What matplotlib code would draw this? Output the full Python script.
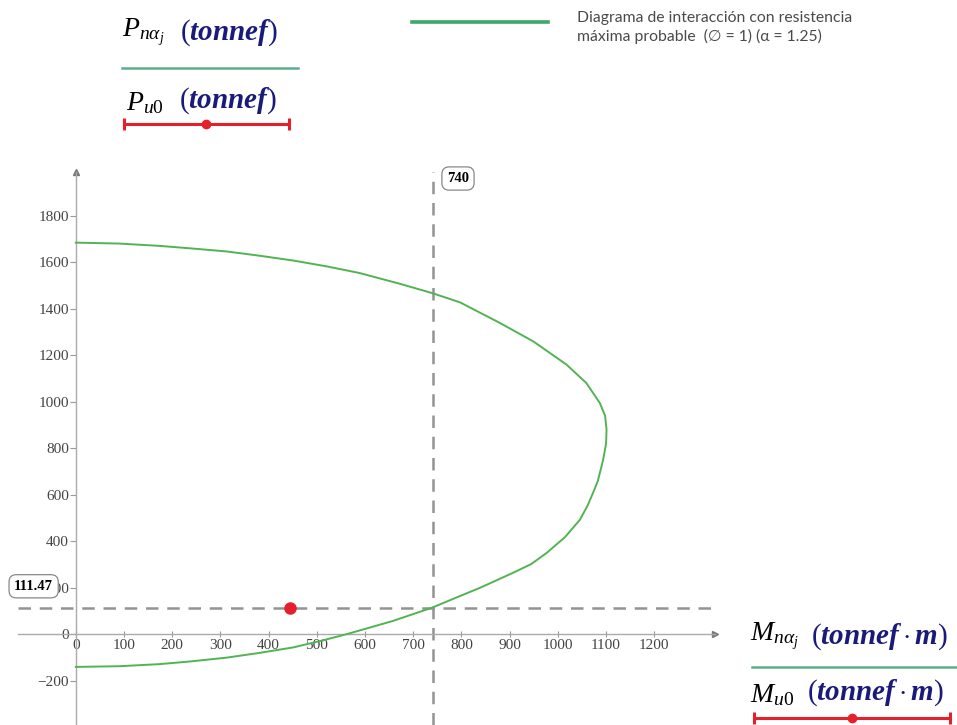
# -*- coding:utf-8 -*-
import matplotlib
matplotlib.use('Agg')
import matplotlib.pyplot as plt
from matplotlib.lines import Line2D

M_n = [0, 90, 174, 240, 313, 380, 451, 520, 589, 672, 739, 797, 880, 949, 1018, 1059, 1087,
       1098, 1101, 1100, 1094, 1083, 1073, 1062, 1046, 1015, 977, 945, 907, 838, 797, 739,
       658, 562, 510, 451, 380, 313, 240, 174, 90, 0]
P_n = [1685, 1681, 1671, 1660, 1647, 1629, 1608, 1583, 1554, 1508, 1468, 1428, 1339, 1260, 1160, 1081, 995,
       940, 880, 820, 751, 660, 608, 555, 493, 418, 350, 302, 264, 199, 164, 114,
       57, 0, -28, -57, -81, -101, -117, -129, -138, -141]
M_u0 = [445]
P_u0 = [111.47]
x_marker = 740
y_marker = 111.47
x_ticks = list(range(0, 1300, 100))
y_ticks = list(range(-200, 2000, 200))

plt.rcParams['mathtext.fontset'] = 'custom'
plt.rcParams['mathtext.rm'] = 'Liberation Serif'
plt.rcParams['mathtext.it'] = 'Liberation Serif:italic'
plt.rcParams['mathtext.bf'] = 'Liberation Serif:bold:italic'

W, H = 957, 725
verde = '#52b352'
rojo = '#e5202a'
gris = '#939393'
azul = '#1a1a7a'


def fx(x):
    return x / W


def fy(y):
    return 1 - y / H


fig = plt.figure(figsize=(W / 100, H / 100), dpi=100)
# ejes: pixeles 18..715 en x, 172..725 en y
ax = fig.add_axes([fx(18), 0, fx(715) - fx(18), fy(172)])
ax.set_xlim(-120, 1326)
ax.set_ylim(-391, 1989)

ax.plot(M_n, P_n, color=verde, lw=1.4, zorder=3)
ax.plot(M_u0, P_u0, 'o', color=rojo, ms=8, zorder=4)
ax.axvline(x_marker, color=gris, lw=1.8, ls=(0, (5, 3.5)), zorder=2)
ax.axhline(y_marker, color=gris, lw=1.8, ls=(0, (5, 3.5)), zorder=2)

for s in ['top', 'right']:
    ax.spines[s].set_visible(False)
for s in ['left', 'bottom']:
    ax.spines[s].set_position(('data', 0))
    ax.spines[s].set_color('#aaaaaa')
    ax.spines[s].set_linewidth(1)
ax.patch.set_alpha(0)

# flechas de los ejes
ax.plot([1], [0], marker='>', color='#777777', ms=5, transform=ax.get_yaxis_transform(), clip_on=False)
ax.plot([0], [1], marker='^', color='#777777', ms=5, transform=ax.get_xaxis_transform(), clip_on=False)

ax.set_xticks(x_ticks)
ax.set_yticks(y_ticks)
ax.set_xticklabels([str(v) for v in x_ticks])
ax.set_yticklabels([str(v).replace('-', '\u2212') for v in y_ticks])
ax.tick_params(axis='x', direction='inout', length=5, width=0.8, color='#999999',
               labelsize=11, labelcolor='#444444', pad=1)
ax.tick_params(axis='y', direction='out', length=4, width=0.8, color='#999999',
               labelsize=11, labelcolor='#444444', pad=1)
for lab in ax.get_xticklabels() + ax.get_yticklabels():
    lab.set_family('Liberation Serif')

# etiquetas de los marcadores
caja = dict(boxstyle='round,pad=0.35,rounding_size=0.5', fc='white', ec='#888888', lw=0.9)
ax.text(x_marker + 30, 1961, '740', family='Liberation Serif', weight='bold', fontsize=10.5,
        ha='left', va='center', bbox=caja, zorder=5)
ax.text(-128, 206, '111.47', family='Liberation Serif', weight='bold', fontsize=10.5,
        ha='left', va='center', bbox=caja, zorder=5)


# textos tipo leyenda
def etiqueta(x, y, simbolo, unidad, sep=11):
    t = fig.text(fx(x), fy(y), simbolo, fontsize=20, color='black', va='baseline', ha='left')
    plt.annotate(unidad, xy=(1, 0), xycoords=t, xytext=(sep, 0), textcoords='offset points',
                 fontsize=21, color=azul, va='bottom', ha='left')


def linea(x0, x1, y, color, puntos=None, lw=2.2):
    fig.add_artist(Line2D([fx(x0), fx(x1)], [fy(y), fy(y)], color=color, lw=lw))
    if puntos is not None:
        fig.add_artist(Line2D([fx(x0), fx(x1)], [fy(y), fy(y)], color=color, lw=0,
                              marker='|', ms=9, mew=2.2))
        fig.add_artist(Line2D([fx(puntos)], [fy(y)], color=color, marker='o', ms=6))


etiqueta(122, 36, r'$P_{n\alpha_j}$', r'$(\mathbf{tonnef})$')
linea(122, 298, 68, '#5aae8c', lw=1.8)
etiqueta(126, 110, r'$P_{u0}$', r'$(\mathbf{tonnef})$')
linea(124, 289, 124, rojo, puntos=206)

etiqueta(750, 640, r'$M_{n\alpha_j}$', r'$(\mathbf{tonnef \cdot m})$', sep=9)
linea(752, 957, 667, '#5aae8c', lw=1.8)
etiqueta(750, 702, r'$M_{u0}$', r'$(\mathbf{tonnef \cdot m})$', sep=9)
linea(754, 950, 718, rojo, puntos=852)

linea(412, 548, 22, '#3ca86a', lw=2.6)
fig.text(fx(577), fy(11), 'Diagrama de interacción con resistencia\nmáxima probable  (∅ = 1) (α = 1.25)',
         family=['Lato', 'DejaVu Sans'], fontsize=11.3, color='#4a4a4a', va='top', ha='left',
         linespacing=1.35)

fig.savefig('out.png', dpi=100)
